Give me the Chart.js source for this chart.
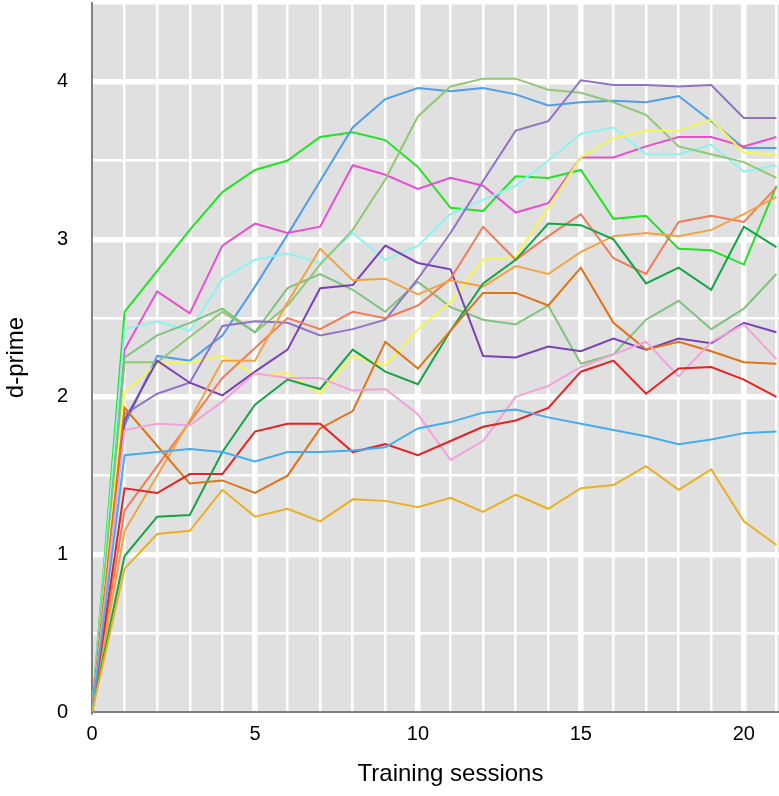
<!DOCTYPE html>
<html>
<head>
<meta charset="utf-8">
<script src="https://cdn.jsdelivr.net/npm/chart.js@4.4.1/dist/chart.umd.min.js"></script>
<style>
    html, body { margin: 0; padding: 0; background: #fff; overflow: hidden; }
    #wrap { width: 809px; height: 796px; }
</style>
</head>
<body>
<div id="wrap"><canvas id="chart" width="809" height="796"></canvas></div>
<script>
    'use strict';

    // sessions 0..21
    let sessions = [0, 1, 2, 3, 4, 5, 6, 7, 8, 9, 10, 11, 12, 13, 14, 15, 16, 17, 18, 19, 20, 21];
    let xTickLabels = [0, 5, 10, 15, 20];
    let yTickLabels = [0, 1, 2, 3, 4];

    let lime = [0, 2.54, 2.80, 3.06, 3.30, 3.44, 3.50, 3.65, 3.68, 3.63, 3.46, 3.20, 3.18, 3.40, 3.39, 3.44, 3.13, 3.15, 2.94, 2.93, 2.84, 3.34];
    let blue = [0, 1.82, 2.26, 2.23, 2.39, 2.70, 3.03, 3.37, 3.71, 3.89, 3.96, 3.94, 3.96, 3.92, 3.85, 3.87, 3.88, 3.87, 3.91, 3.75, 3.58, 3.58];
    let sageUp = [0, 2.22, 2.22, 2.38, 2.54, 2.41, 2.58, 2.84, 3.06, 3.38, 3.78, 3.97, 4.02, 4.02, 3.95, 3.93, 3.87, 3.79, 3.59, 3.54, 3.49, 3.39];
    let sage = [0, 2.25, 2.39, 2.47, 2.56, 2.41, 2.69, 2.78, 2.68, 2.54, 2.73, 2.57, 2.49, 2.46, 2.58, 2.21, 2.27, 2.49, 2.61, 2.43, 2.56, 2.78];
    let magenta = [0, 2.30, 2.67, 2.53, 2.96, 3.10, 3.04, 3.08, 3.47, 3.41, 3.32, 3.39, 3.34, 3.17, 3.23, 3.52, 3.52, 3.59, 3.65, 3.65, 3.59, 3.65];
    let cyan = [0, 2.43, 2.48, 2.42, 2.75, 2.87, 2.91, 2.85, 3.04, 2.87, 2.96, 3.16, 3.25, 3.34, 3.50, 3.67, 3.71, 3.54, 3.54, 3.60, 3.43, 3.47];
    let yellow = [0, 2.03, 2.21, 2.22, 2.26, 2.14, 2.15, 2.02, 2.26, 2.20, 2.43, 2.60, 2.87, 2.89, 3.20, 3.52, 3.64, 3.69, 3.69, 3.76, 3.55, 3.54];
    let lilac = [0, 1.89, 2.02, 2.09, 2.45, 2.48, 2.47, 2.39, 2.43, 2.49, 2.75, 3.04, 3.37, 3.69, 3.75, 4.01, 3.98, 3.98, 3.97, 3.98, 3.77, 3.77];
    let purple = [0, 1.85, 2.23, 2.09, 2.01, 2.16, 2.30, 2.69, 2.71, 2.96, 2.85, 2.81, 2.26, 2.25, 2.32, 2.29, 2.37, 2.30, 2.37, 2.34, 2.47, 2.41];
    let salmon = [0, 1.28, 1.56, 1.84, 2.12, 2.31, 2.50, 2.43, 2.54, 2.50, 2.58, 2.75, 3.08, 2.87, 3.02, 3.16, 2.88, 2.78, 3.11, 3.15, 3.11, 3.33];
    let lightOrange = [0, 1.15, 1.50, 1.85, 2.23, 2.23, 2.60, 2.94, 2.74, 2.75, 2.65, 2.74, 2.70, 2.83, 2.78, 2.92, 3.02, 3.04, 3.02, 3.06, 3.16, 3.27];
    let darkOrange = [0, 1.93, 1.69, 1.45, 1.47, 1.39, 1.50, 1.80, 1.91, 2.35, 2.18, 2.42, 2.66, 2.66, 2.58, 2.82, 2.47, 2.30, 2.35, 2.29, 2.22, 2.21];
    let darkGreen = [0, 0.99, 1.24, 1.25, 1.65, 1.95, 2.11, 2.05, 2.30, 2.16, 2.08, 2.42, 2.72, 2.87, 3.10, 3.09, 3.00, 2.72, 2.82, 2.68, 3.08, 2.95];
    let red = [0, 1.42, 1.39, 1.51, 1.51, 1.78, 1.83, 1.83, 1.65, 1.70, 1.63, 1.72, 1.81, 1.85, 1.93, 2.16, 2.23, 2.02, 2.18, 2.19, 2.11, 2.00];
    let skyBlue = [0, 1.63, 1.65, 1.67, 1.65, 1.59, 1.65, 1.65, 1.66, 1.68, 1.80, 1.84, 1.90, 1.92, 1.87, 1.83, 1.79, 1.75, 1.70, 1.73, 1.77, 1.78];
    let pink = [0, 1.79, 1.83, 1.82, 1.97, 2.15, 2.12, 2.12, 2.04, 2.05, 1.89, 1.60, 1.72, 2.00, 2.07, 2.19, 2.27, 2.35, 2.13, 2.35, 2.46, 2.24];
    let golden = [0, 0.91, 1.13, 1.15, 1.41, 1.24, 1.29, 1.21, 1.35, 1.34, 1.30, 1.36, 1.27, 1.38, 1.29, 1.42, 1.44, 1.56, 1.41, 1.54, 1.21, 1.06];

    let series = [
        { values: golden, color: '#ebb022' },
        { values: skyBlue, color: '#42aef0' },
        { values: red, color: '#e62222' },
        { values: pink, color: '#f2a2d8' },
        { values: darkOrange, color: '#e07414' },
        { values: darkGreen, color: '#14a444' },
        { values: lightOrange, color: '#f0a444' },
        { values: salmon, color: '#f07c58' },
        { values: purple, color: '#7c40b4' },
        { values: lilac, color: '#9272c8' },
        { values: yellow, color: '#f6f650' },
        { values: sage, color: '#80c27e' },
        { values: sageUp, color: '#90c874' },
        { values: cyan, color: '#8ef2f0' },
        { values: magenta, color: '#e84ed0' },
        { values: blue, color: '#4e9ee8' },
        { values: lime, color: '#22e224' }
    ];

    let fontFamily = '"Liberation Sans", Arial, Helvetica, sans-serif';

    // gray panel behind the grid
    let plotBackground = {
        id: 'plotBackground',
        beforeDraw: function (chart) {
            let a = chart.chartArea;
            let ctx = chart.ctx;
            ctx.save();
            ctx.fillStyle = '#e0e0e0';
            ctx.fillRect(a.left, a.top, a.right - a.left, a.bottom - a.top);
            ctx.restore();
        }
    };

    let gridWidth = function (step) {
        return function (c) {
            if (!c.tick) return 2.5;
            return Math.abs(c.tick.value % step) < 1e-6 ? 5.5 : 2.5;
        };
    };
    let gridColor = function (c) {
        if (c.tick && c.tick.value === 0) return 'rgba(255,255,255,0)';
        return '#ffffff';
    };

    let chart = new Chart(document.getElementById('chart').getContext('2d'), {
        type: 'line',
        data: {
            datasets: series.map(function (s) {
                return {
                    data: sessions.map(function (x, i) { return { x: x, y: s.values[i] }; }),
                    borderColor: s.color,
                    backgroundColor: s.color,
                    borderWidth: 2,
                    pointRadius: 0,
                    tension: 0,
                    fill: false
                };
            })
        },
        options: {
            responsive: false,
            animation: false,
            layout: { autoPadding: false, padding: { top: 3, left: 0, right: 0, bottom: 0 } },
            plugins: {
                legend: { display: false },
                tooltip: { enabled: false }
            },
            scales: {
                x: {
                    type: 'linear',
                    min: 0,
                    max: 22,
                    afterFit: function (s) {
                        s.height = 84;
                        s.paddingLeft = 0;
                        s.paddingRight = 0;
                    },
                    border: { display: true, color: '#808080', width: 2 },
                    grid: { color: gridColor, lineWidth: gridWidth(5), drawTicks: false },
                    ticks: {
                        stepSize: 1,
                        autoSkip: false,
                        maxRotation: 0,
                        padding: 10,
                        color: '#000',
                        font: { family: fontFamily, size: 20 },
                        callback: function (v) { return xTickLabels.indexOf(v) >= 0 ? String(v) : ''; }
                    },
                    title: {
                        display: true,
                        text: 'Training sessions',
                        color: '#000',
                        font: { family: fontFamily, size: 24 },
                        padding: { top: 0, bottom: 7 }
                    }
                },
                y: {
                    min: 0,
                    max: 4.5,
                    afterFit: function (s) {
                        s.width = 92;
                        s.paddingTop = 0;
                        s.paddingBottom = 0;
                    },
                    border: { display: true, color: '#808080', width: 2 },
                    grid: { color: gridColor, lineWidth: gridWidth(1), drawTicks: false },
                    ticks: {
                        stepSize: 0.5,
                        autoSkip: false,
                        padding: 24,
                        color: '#000',
                        font: { family: fontFamily, size: 20 },
                        callback: function (v) { return yTickLabels.indexOf(v) >= 0 ? String(v) : ''; }
                    },
                    title: {
                        display: true,
                        text: 'd-prime',
                        color: '#000',
                        font: { family: fontFamily, size: 24 },
                        padding: { top: 2, bottom: 0 }
                    }
                }
            }
        },
        plugins: [plotBackground]
    });
</script>
</body>
</html>
